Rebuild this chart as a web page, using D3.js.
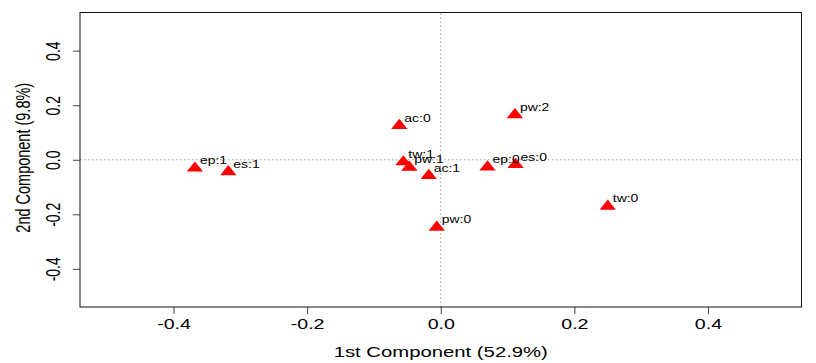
<!DOCTYPE html>
<html>
<head>
<meta charset="utf-8">
<script src="https://cdn.jsdelivr.net/npm/d3@7"></script>
<style>
  body { margin: 0; background: #fff; }
  svg text { font-family: "Liberation Sans", Arial, sans-serif; fill: #000; }
</style>
</head>
<body>
<div id="chart"></div>
<script>
// point labels and their two component scores
const labels = ["ep:1", "es:1", "ac:0", "tw:1", "pw:1", "ac:1", "pw:0", "ep:0", "es:0", "pw:2", "tw:0"];
const pc1 = [-0.368, -0.318, -0.062, -0.056, -0.047, -0.018, -0.006, 0.070, 0.112, 0.111, 0.250];
const pc2 = [-0.031, -0.044, 0.125, -0.008, -0.028, -0.058, -0.248, -0.027, -0.018, 0.165, -0.171];

const xTicks = [-0.4, -0.2, 0.0, 0.2, 0.4];
const yTicks = [-0.4, -0.2, 0.0, 0.2, 0.4];
const xTitle = "1st Component (52.9%)";
const yTitle = "2nd Component (9.8%)";

const width = 816, height = 363;
const margin = { top: 12.5, right: 14.5, bottom: 56, left: 80 };
const SX = 1.4; // the original picture is stretched sideways

const svg = d3.select('#chart').append('svg')
    .attr('width', width)
    .attr('height', height);

const x = d3.scaleLinear()
    .domain([-0.54, 0.54])
    .range([margin.left, width - margin.right]);

const y = d3.scaleLinear()
    .domain([-0.54, 0.54])
    .range([height - margin.bottom, margin.top]);

const fmt = d => d.toFixed(1);

// reference lines through zero
svg.append('line')
    .attr('x1', x(0)).attr('x2', x(0))
    .attr('y1', y.range()[0]).attr('y2', y.range()[1])
    .attr('stroke', '#9a9a9a').attr('stroke-dasharray', '1.5,2.5');
svg.append('line')
    .attr('x1', x.range()[0]).attr('x2', x.range()[1])
    .attr('y1', y(0)).attr('y2', y(0))
    .attr('stroke', '#9a9a9a').attr('stroke-dasharray', '1.5,2.5');

// x axis
const gx = svg.append('g')
    .attr('transform', `translate(0,${y.range()[0]})`)
    .call(d3.axisBottom(x).tickValues(xTicks).tickFormat(fmt).tickSize(7));
gx.select('.domain').remove();
gx.selectAll('.tick line').attr('stroke', '#444');
gx.selectAll('.tick text')
    .attr('y', null).attr('dy', null)
    .attr('font-size', 14)
    .attr('text-anchor', 'middle')
    .attr('transform', `translate(0,22) scale(${SX},1)`);

// y axis
const gy = svg.append('g')
    .attr('transform', `translate(${x.range()[0]},0)`)
    .call(d3.axisLeft(y).tickValues(yTicks).tickFormat(fmt).tickSize(7));
gy.select('.domain').remove();
gy.selectAll('.tick line').attr('stroke', '#444');
gy.selectAll('.tick text')
    .attr('x', null).attr('dy', null)
    .attr('font-size', 14)
    .attr('text-anchor', 'middle')
    .attr('transform', `translate(-20,0) scale(${SX},1) rotate(-90)`);

// frame
svg.append('rect')
    .attr('x', x.range()[0]).attr('y', y.range()[1])
    .attr('width', x.range()[1] - x.range()[0])
    .attr('height', y.range()[0] - y.range()[1])
    .attr('fill', 'none').attr('stroke', '#111').attr('stroke-width', 1);

// axis titles
svg.append('text')
    .attr('transform', `translate(${x(0)},357) scale(${SX},1)`)
    .attr('text-anchor', 'middle')
    .attr('font-size', 14.5)
    .text(xTitle);
svg.append('text')
    .attr('transform', `translate(30,${(y.range()[0] + y.range()[1]) / 2 - 2}) scale(${SX},1) rotate(-90)`)
    .attr('text-anchor', 'middle')
    .attr('font-size', 14.5)
    .text(yTitle);

// filled triangles
const r = 6.8;
const tri = `M0,${-r}L${r * 1.2},${r / 2}L${-r * 1.2},${r / 2}Z`;
const points = labels.map((l, i) => ({ label: l, a: pc1[i], b: pc2[i] }));

svg.selectAll('path.pt')
    .data(points)
    .enter().append('path')
    .attr('class', 'pt')
    .attr('d', tri)
    .attr('transform', d => `translate(${x(d.a)},${y(d.b)})`)
    .attr('fill', '#ff0000');

svg.selectAll('text.lab')
    .data(points)
    .enter().append('text')
    .attr('class', 'lab')
    .attr('font-size', 10.5)
    .attr('transform', d => `translate(${x(d.a) + 5},${y(d.b) - 4}) scale(${SX * 0.95},1)`)
    .text(d => d.label);
</script>
</body>
</html>
